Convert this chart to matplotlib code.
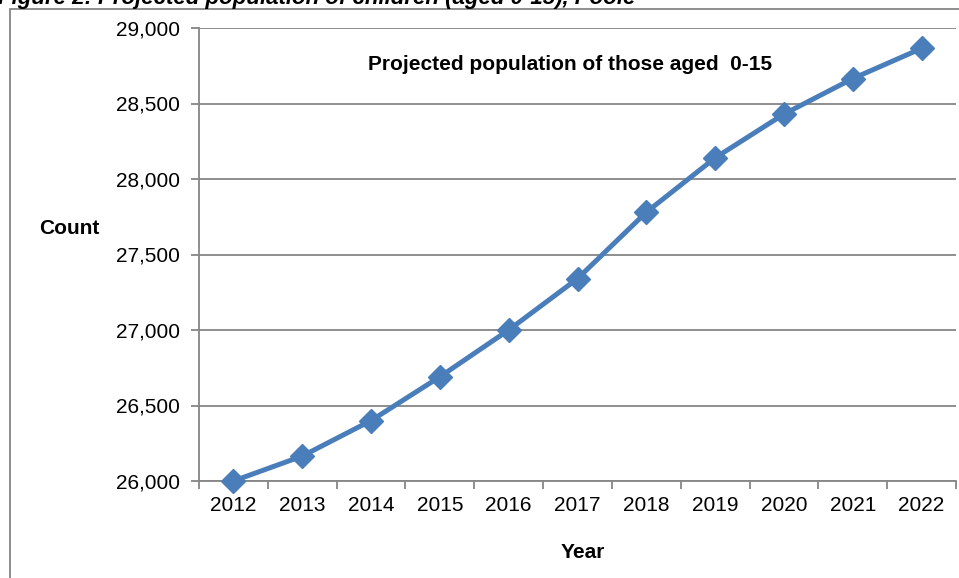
import numpy as np
import matplotlib.pyplot as plt
from matplotlib.patches import Rectangle

plt.rcParams['font.family'] = ['Liberation Sans', 'DejaVu Sans']

years = ['2012', '2013', '2014', '2015', '2016', '2017',
         '2018', '2019', '2020', '2021', '2022']
count = [26000, 26165, 26400, 26690, 27000, 27340,
         27780, 28140, 28430, 28665, 28865]
yticks = [26000, 26500, 27000, 27500, 28000, 28500, 29000]

grey = '#868686'
blue = '#4A7EBB'

fig = plt.figure(figsize=(9.59, 5.78), dpi=100)

# outer chart frame (runs off the right and bottom edge)
fig.patches.append(Rectangle((10/959, -0.05), 1.2, 1 - 9/578 + 0.05,
                             transform=fig.transFigure, fill=False,
                             edgecolor=grey, lw=1.3))

# cut-off caption above the chart
fig.text(-0.002, 1 - 4/578, 'Figure 2: Projected population of children (aged 0-15), Poole',
         fontsize=16, fontweight='bold', fontstyle='italic', va='baseline', ha='left')

ax = fig.add_axes([199/959, 1 - 481/578, (956-199)/959, (481-28)/578])
x = np.arange(len(years))
ax.plot(x, count, color=blue, lw=3.6, marker='D', markersize=12, zorder=3, clip_on=False)

ax.set_xlim(-0.5, len(years) - 0.5)
ax.set_ylim(26000, 29000)
ax.set_yticks(yticks)
ax.set_yticklabels(['{:,}'.format(v) for v in yticks], fontsize=15)
ax.set_xticks(x)
ax.set_xticklabels(years, fontsize=15)
ax.set_xticks(np.arange(len(years) + 1) - 0.5, minor=True)
ax.tick_params(axis='x', which='major', length=0, pad=11)
ax.tick_params(axis='x', which='minor', length=6, color=grey, width=1.3)
ax.tick_params(axis='y', length=6, color=grey, width=1.3, pad=8)

ax.yaxis.grid(True, color=grey, lw=1.3)
ax.set_axisbelow(True)
for s in ['top', 'right']:
    ax.spines[s].set_visible(False)
for s in ['left', 'bottom']:
    ax.spines[s].set_color(grey)
    ax.spines[s].set_linewidth(1.3)

fig.text(570/959, 1 - 65/578, 'Projected population of those aged  0-15',
         fontsize=15, fontweight='bold', ha='center', va='center')
fig.text(69/959, 1 - 228/578, 'Count', fontsize=15, fontweight='bold', ha='center', va='center')
fig.text(583/959, 1 - 553/578, 'Year', fontsize=15, fontweight='bold', ha='center', va='center')

fig.savefig('out.png', dpi=100)
